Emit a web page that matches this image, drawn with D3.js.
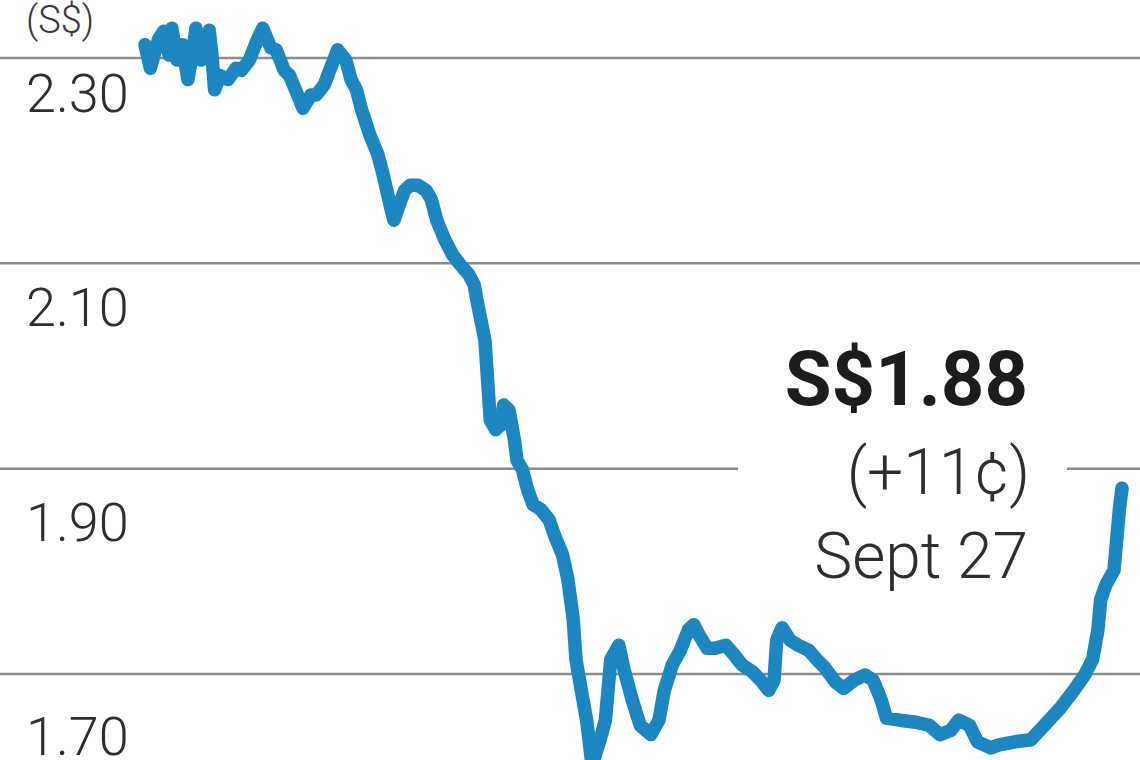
<!DOCTYPE html>
<html>
<head>
<meta charset="utf-8">
<script src="https://cdn.jsdelivr.net/npm/d3@7"></script>
<style>
  html, body { margin: 0; padding: 0; background: #fff; }
  svg { display: block; }
</style>
</head>
<body>
<svg width="1140" height="760"></svg>
<script>
// calendar day since start of the window (ends Sept 27)
const days = [
  0, 2, 5, 7, 9, 10, 12, 14, 16, 18,
  19, 21, 24, 25, 26, 28, 31, 34, 36, 39,
  42, 44, 47, 49, 52, 54, 57, 59, 62, 64,
  67, 69, 72, 75, 77, 79, 81, 84, 87, 89,
  92, 93, 95, 97, 99, 102, 105, 107, 109, 112,
  115, 118, 121, 123, 124, 127, 128, 129, 131, 133,
  134, 136, 138, 139, 141, 143, 145, 148, 151, 153,
  156, 158, 160, 161, 163, 165, 167, 170, 172, 174,
  177, 179, 182, 185, 189, 192, 194, 197, 200, 203,
  205, 207, 210, 213, 217, 220, 223, 227, 230, 233,
  235, 236, 238, 241, 244, 248, 251, 254, 258, 261,
  265, 269, 272, 275, 277, 282, 288, 293, 297, 301,
  304, 308, 311, 316, 319, 325, 331, 336, 342, 347,
  351, 354, 356, 357, 359, 362, 363, 364, 365
];

// share price, S$
const prices = [
  2.313, 2.290, 2.318, 2.326, 2.303, 2.329, 2.298, 2.313, 2.279, 2.308,
  2.329, 2.298, 2.327, 2.303, 2.269, 2.283, 2.279, 2.290, 2.288, 2.298,
  2.318, 2.329, 2.310, 2.308, 2.288, 2.283, 2.264, 2.251, 2.264, 2.264,
  2.274, 2.288, 2.308, 2.298, 2.279, 2.269, 2.249, 2.225, 2.206, 2.186,
  2.152, 2.142, 2.157, 2.171, 2.176, 2.176, 2.171, 2.162, 2.142, 2.123,
  2.108, 2.098, 2.089, 2.079, 2.064, 2.025, 1.986, 1.947, 1.938, 1.943,
  1.962, 1.957, 1.928, 1.908, 1.899, 1.879, 1.865, 1.860, 1.850, 1.835,
  1.816, 1.792, 1.753, 1.714, 1.684, 1.655, 1.611, 1.636, 1.655, 1.714,
  1.728, 1.704, 1.675, 1.650, 1.641, 1.655, 1.684, 1.709, 1.723, 1.743,
  1.748, 1.738, 1.725, 1.725, 1.728, 1.719, 1.709, 1.702, 1.694, 1.684,
  1.694, 1.733, 1.745, 1.733, 1.728, 1.723, 1.714, 1.706, 1.692, 1.686,
  1.694, 1.699, 1.694, 1.675, 1.657, 1.655, 1.653, 1.650, 1.641, 1.645,
  1.655, 1.650, 1.634, 1.628, 1.631, 1.634, 1.636, 1.650, 1.667, 1.684,
  1.699, 1.714, 1.743, 1.772, 1.787, 1.801, 1.830, 1.860, 1.881
];

const yTicks = [2.30, 2.10, 1.90, 1.70];
const unitLabel = '(S$)';
const lastPrice = 'S$1.88';
const change = '(+11¢)';
const lastDate = 'Sept 27';

const svg = d3.select('svg');
const width = 1140;
const height = 760;

const x = d3.scaleLinear().domain([0, 365]).range([145, 1122]);
const y = d3.scaleLinear().domain([1.70, 2.30]).range([674, 58]);
// tick labels sit under their gridline, drifting a bit lower down the chart
const yLabel = d3.scaleLinear().domain([1.70, 2.30]).range([755, 112]);

const font = 'Roboto, "Open Sans", "Liberation Sans", sans-serif';

// gridlines (1.90 is broken around the price note)
const grid = svg.append('g')
  .attr('stroke', '#8c8c8c')
  .attr('stroke-width', 2.5);

yTicks.forEach((t) => {
  const segs = t === 1.90 ? [[0, 738], [1067, width]] : [[0, width]];
  segs.forEach(([a, b]) => {
    grid.append('line')
      .attr('x1', a).attr('x2', b)
      .attr('y1', y(t)).attr('y2', y(t));
  });
});

svg.append('g')
  .selectAll('text')
  .data(yTicks)
  .join('text')
  .attr('x', 26)
  .attr('y', d => yLabel(d))
  .attr('font-family', font)
  .attr('font-weight', 300)
  .attr('font-size', 54)
  .attr('fill', '#2e2e2e')
  .text(d => d3.format('.2f')(d));

svg.append('text')
  .attr('x', 26)
  .attr('y', 33)
  .attr('font-family', font)
  .attr('font-weight', 300)
  .attr('font-size', 38)
  .attr('fill', '#3a3a3a')
  .text(unitLabel);

// price line
const line = d3.line()
  .x((d, i) => x(days[i]))
  .y(d => y(d));

svg.append('path')
  .datum(prices)
  .attr('d', line)
  .attr('fill', 'none')
  .attr('stroke', '#1b86bf')
  .attr('stroke-width', 13.5)
  .attr('stroke-linejoin', 'round')
  .attr('stroke-linecap', 'round');

// latest price note
svg.append('text')
  .attr('x', 1028)
  .attr('y', 405)
  .attr('text-anchor', 'end')
  .attr('font-family', font)
  .attr('font-weight', 700)
  .attr('font-size', 76)
  .attr('fill', '#1c1c1c')
  .text(lastPrice);

svg.append('text')
  .attr('x', 1030)
  .attr('y', 494)
  .attr('text-anchor', 'end')
  .attr('font-family', font)
  .attr('font-weight', 300)
  .attr('font-size', 64)
  .attr('fill', '#2e2e2e')
  .text(change);

svg.append('text')
  .attr('x', 1028)
  .attr('y', 578)
  .attr('text-anchor', 'end')
  .attr('font-family', font)
  .attr('font-weight', 300)
  .attr('font-size', 64)
  .attr('fill', '#2e2e2e')
  .text(lastDate);
</script>
</body>
</html>
